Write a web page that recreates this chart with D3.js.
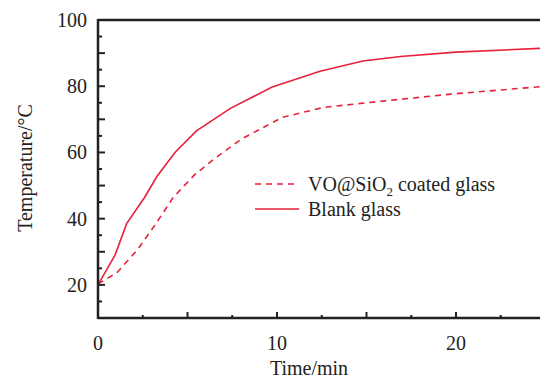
<!DOCTYPE html>
<html>
<head>
  <meta charset="utf-8">
  <title>Temperature vs time</title>
  <style>
    body { margin: 0; background: #fff; }
  </style>
</head>
<body>
  <script src="https://d3js.org/d3.v7.min.js"></script>
  <script>
    const width = 540;
    const height = 379;

    // data
    const blankTime = [0, 0.95, 1.6, 2.6, 3.3, 4.3, 5.5, 7.4, 9.7, 12.4, 14.8, 16.9, 20, 25];
    const blankTemp = [20, 29, 38.5, 46.4, 52.8, 60, 66.5, 73.3, 79.7, 84.5, 87.6, 89, 90.3, 91.5];
    const coatedTime = [0, 1.04, 2.2, 3.2, 4.2, 5.4, 6.6, 8.0, 10.3, 12.6, 15, 19.7, 25];
    const coatedTemp = [20.3, 23.6, 30.6, 38.2, 46.4, 53.3, 58.5, 64, 70.6, 73.6, 75, 77.6, 80];
    const xLabels = [0, 10, 20];
    const yLabels = [20, 40, 60, 80, 100];

    const red = '#e8213b';
    const ink = '#222';
    const font = '"Liberation Serif", "DejaVu Serif", serif';

    const svg = d3.select('body')
      .append('svg')
      .attr('width', width)
      .attr('height', height)
      .attr('font-family', font)
      .attr('fill', ink);

    const x = d3.scaleLinear().domain([0, 25]).range([98, 545.5]);
    const y = d3.scaleLinear().domain([10, 100]).range([318, 20]);

    const line = d3.line()
      .x((d) => x(d[0]))
      .y((d) => y(d[1]));

    const series = [
      { pts: d3.zip(coatedTime, coatedTemp), dash: '6,5' },
      { pts: d3.zip(blankTime, blankTemp), dash: null }
    ];

    svg.append('g')
      .selectAll('path')
      .data(series)
      .join('path')
      .attr('d', (d) => line(d.pts))
      .attr('fill', 'none')
      .attr('stroke', red)
      .attr('stroke-width', 1.6)
      .attr('stroke-dasharray', (d) => d.dash);

    // axes: ticks pointing inward
    const axes = svg.append('g').attr('stroke', ink);

    axes.selectAll('.xt')
      .data(d3.range(0, 25.1, 2.5))
      .join('line')
      .attr('x1', (d) => x(d))
      .attr('x2', (d) => x(d))
      .attr('y1', y(10))
      .attr('y2', (d) => y(10) - (d % 5 === 0 ? 6 : 3))
      .attr('stroke-width', 2);

    axes.selectAll('.yt')
      .data(d3.range(10, 100.1, 5))
      .join('line')
      .attr('y1', (d) => y(d))
      .attr('y2', (d) => y(d))
      .attr('x1', x(0))
      .attr('x2', (d) => x(0) + (d % 10 === 0 ? 7 : 4))
      .attr('stroke-width', 2);

    axes.append('line')
      .attr('x1', x(0)).attr('x2', x(0))
      .attr('y1', y(100) - 1).attr('y2', y(10) + 1)
      .attr('stroke-width', 2.5);
    axes.append('line')
      .attr('x1', x(0)).attr('x2', width)
      .attr('y1', y(10)).attr('y2', y(10))
      .attr('stroke-width', 2.5);
    axes.append('line')
      .attr('x1', x(0)).attr('x2', width)
      .attr('y1', y(100)).attr('y2', y(100))
      .attr('stroke-width', 2.5);

    svg.append('g')
      .selectAll('text')
      .data(xLabels)
      .join('text')
      .attr('x', (d) => x(d))
      .attr('y', 350)
      .attr('text-anchor', 'middle')
      .attr('font-size', 20)
      .text((d) => d);

    svg.append('g')
      .selectAll('text')
      .data(yLabels)
      .join('text')
      .attr('x', 87)
      .attr('y', (d) => y(d) + 7)
      .attr('text-anchor', 'end')
      .attr('font-size', 20)
      .text((d) => d);

    svg.append('text')
      .attr('x', 309)
      .attr('y', 375)
      .attr('text-anchor', 'middle')
      .attr('font-size', 20)
      .text('Time/min');

    svg.append('text')
      .attr('transform', 'translate(32,168) rotate(-90)')
      .attr('text-anchor', 'middle')
      .attr('font-size', 20)
      .text('Temperature/°C');

    // legend
    const legend = svg.append('g');
    const rows = [
      { y: 184, dash: '6,5' },
      { y: 209, dash: null }
    ];
    legend.selectAll('line')
      .data(rows)
      .join('line')
      .attr('x1', 255).attr('x2', 299)
      .attr('y1', (d) => d.y).attr('y2', (d) => d.y)
      .attr('stroke', red)
      .attr('stroke-width', 1.6)
      .attr('stroke-dasharray', (d) => d.dash);

    const t1 = legend.append('text')
      .attr('x', 308)
      .attr('y', 191)
      .attr('font-size', 20);
    t1.append('tspan').text('VO@SiO');
    t1.append('tspan').attr('dy', 5).attr('font-size', 13).text('2');
    t1.append('tspan').attr('dy', -5).text(' coated glass');

    legend.append('text')
      .attr('x', 308)
      .attr('y', 216)
      .attr('font-size', 20)
      .text('Blank glass');
  </script>
</body>
</html>
